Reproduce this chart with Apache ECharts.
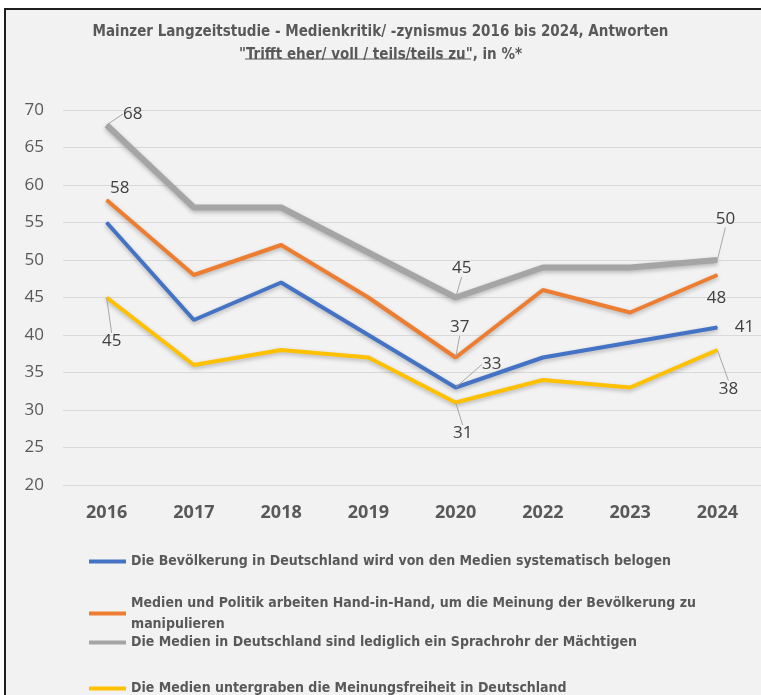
<!DOCTYPE html>
<html>
<head>
<meta charset="utf-8">
<script src="https://cdn.jsdelivr.net/npm/echarts@6/dist/echarts.min.js"></script>
<style>
  html, body { margin: 0; padding: 0; background: #fff; overflow: hidden; }
  #frame { position: absolute; left: 4px; top: 8px; width: 800px; height: 720px;
           border: 2px solid #1e1e1e; background: #f2f2f2; }
  #chart { position: absolute; left: 0; top: 0; width: 761px; height: 695px; }
</style>
</head>
<body>
<div id="frame"></div>
<div id="chart"></div>
<script>
// Jahre und Werte (in %)
const years = ['2016', '2017', '2018', '2019', '2020', '2022', '2023', '2024']
const belogen = [55, 42, 47, 40, 33, 37, 39, 41]
const manipulieren = [58, 48, 52, 45, 37, 46, 43, 48]
const sprachrohr = [68, 57, 57, 51, 45, 49, 49, 50]
const meinungsfreiheit = [45, 36, 38, 37, 31, 34, 33, 38]
const yTicks = [20, 25, 30, 35, 40, 45, 50, 55, 60, 65, 70]

const names = [
  'Die Bevölkerung in Deutschland wird von den Medien systematisch belogen',
  'Medien und Politik arbeiten Hand-in-Hand, um die Meinung der Bevölkerung zu\nmanipulieren',
  'Die Medien in Deutschland sind lediglich ein Sprachrohr der Mächtigen',
  'Die Medien untergraben die Meinungsfreiheit in Deutschland'
]
const colors = ['#4472c4', '#ed7d31', '#a5a5a5', '#ffc000']

// welche Punkte beschriftet werden: [dataIndex, dx, dy, Hinweislinie]
const labelPlaces = [
  [[4, 36, -23, true], [7, 27, 0, false]],
  [[0, 13, -12, false], [4, 4, -30, true], [7, -1, 23, false]],
  [[0, 26, -11, true], [4, 6, -29, true], [7, 8, -41, true]],
  [[0, 5, 44, true], [4, 7, 31, true], [7, 11, 39, true]]
]

const narrow = '"DejaVu Sans Condensed", "Liberation Sans Narrow", sans-serif'
const segoe = '"Open Sans", "Noto Sans", sans-serif'

const chart = echarts.init(document.getElementById('chart'))

function makeSeries(idx, values) {
  const places = labelPlaces[idx]
  const data = values.map(function (v, i) {
    const p = places.find(function (q) { return q[0] === i })
    if (!p) return v
    return {
      value: v,
      label: { show: true },
      labelLine: { show: p[3] }
    }
  })
  return {
    name: names[idx],
    type: 'line',
    data: data,
    symbol: 'circle',
    symbolSize: 1,
    z: idx === 2 ? 1 : 2,
    lineStyle: {
      color: colors[idx],
      width: idx === 2 ? 6 : 4,
      shadowColor: 'rgba(0,0,0,0.25)',
      shadowBlur: 4,
      shadowOffsetY: 2
    },
    itemStyle: { color: colors[idx] },
    label: {
      show: false,
      position: 'inside',
      color: '#404040',
      fontSize: 17,
      fontFamily: segoe
    },
    labelLine: {
      show: false,
      lineStyle: { color: '#a6a6a6', width: 1 }
    },
    labelLayout: function (params) {
      const p = places.find(function (q) { return q[0] === params.dataIndex })
      if (!p) return {}
      return { dx: p[1], dy: p[2] }
    },
    emphasis: { disabled: true }
  }
}

const legendTops = [546, 577, 627, 673]
const legends = names.map(function (n, i) {
  return {
    data: [n],
    left: 84,
    top: legendTops[i],
    orient: 'vertical',
    icon: 'rect',
    itemWidth: 37,
    itemHeight: 4,
    selectedMode: false,
    textStyle: {
      color: '#595959',
      fontSize: 14,
      fontWeight: 'bold',
      fontFamily: narrow,
      lineHeight: 21,
      padding: i === 1 ? [21, 0, 0, 0] : 0
    }
  }
})

const option = {
  backgroundColor: 'transparent',
  animation: false,
  color: colors,
  title: {
    text: 'Mainzer Langzeitstudie - Medienkritik/ -zynismus 2016 bis 2024, Antworten\n"Trifft eher/ voll / teils/teils zu", in %*',
    left: 'center',
    top: 16,
    textStyle: {
      color: '#595959',
      fontSize: 15,
      fontWeight: 'bold',
      fontFamily: narrow,
      lineHeight: 23
    }
  },
  legend: legends,
  grid: {
    left: 63,
    top: 110,
    width: 706,
    bottom: 210,
    containLabel: false
  },
  xAxis: {
    type: 'category',
    data: years,
    boundaryGap: true,
    axisLine: { show: false },
    axisTick: { show: false },
    axisLabel: {
      color: '#595959',
      fontSize: 18,
      fontWeight: 'bold',
      fontFamily: segoe,
      margin: 19
    }
  },
  yAxis: {
    type: 'value',
    min: yTicks[0],
    max: yTicks[yTicks.length - 1],
    interval: yTicks[1] - yTicks[0],
    axisLine: { show: false },
    axisTick: { show: false },
    axisLabel: {
      color: '#595959',
      fontSize: 17,
      fontFamily: segoe,
      margin: 19
    },
    splitLine: { lineStyle: { color: '#d9d9d9', width: 1 } }
  },
  graphic: [{
    type: 'line',
    shape: { x1: 245, y1: 59, x2: 471, y2: 59 },
    style: { stroke: '#595959', lineWidth: 1 }
  }],
  series: [
    makeSeries(0, belogen),
    makeSeries(1, manipulieren),
    makeSeries(2, sprachrohr),
    makeSeries(3, meinungsfreiheit)
  ]
}

chart.setOption(option)
</script>
</body>
</html>
